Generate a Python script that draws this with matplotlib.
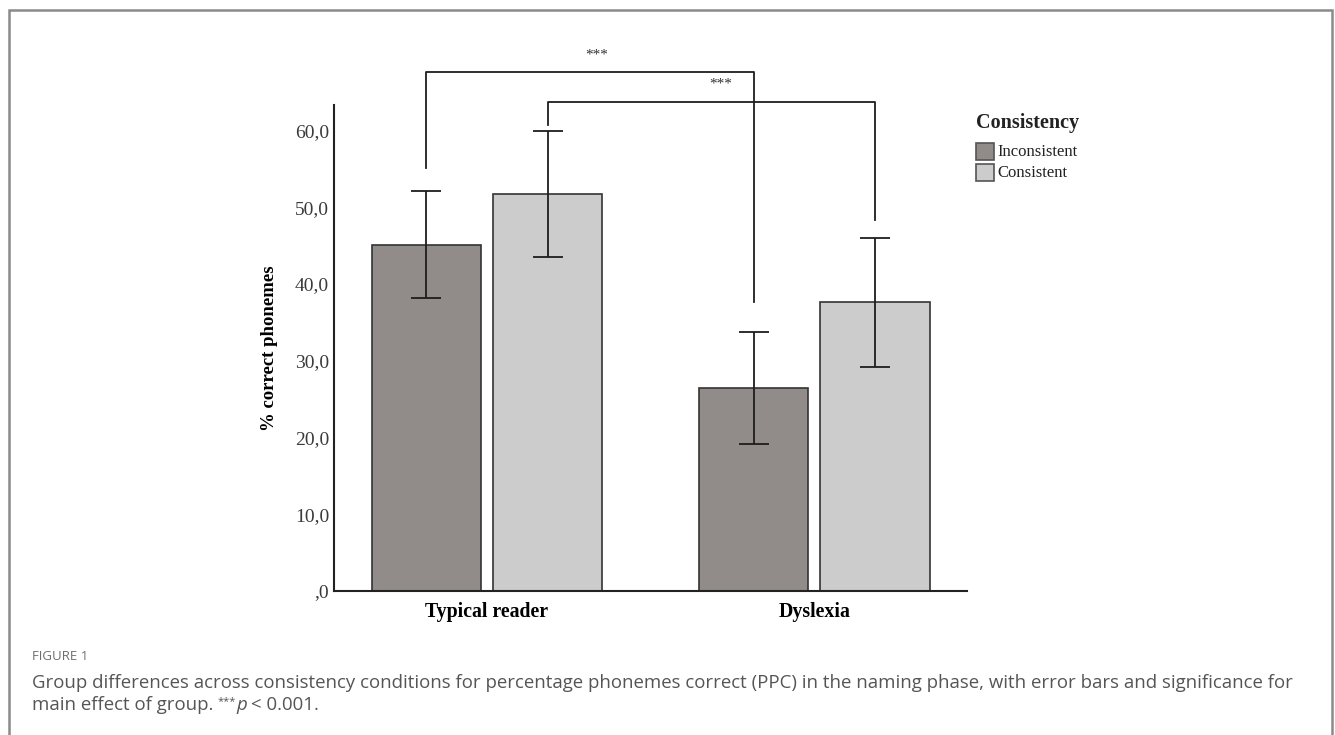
"""
Figure 1 - % correct phonemes by group and consistency (bar chart with error bars)
"""

import matplotlib
matplotlib.use('Agg')
import matplotlib.pyplot as plt
from matplotlib.patches import Rectangle
import numpy as np

# --- Data ---
groups = ['Typical reader', 'Dyslexia']
conditions = ['Inconsistent', 'Consistent']
means_inconsistent = [45.1, 26.4]
means_consistent = [51.7, 37.6]
err_inconsistent = [7.0, 7.3]
err_consistent = [8.2, 8.4]
yticks = [0, 10, 20, 30, 40, 50, 60]
ytick_labels = [',0', '10,0', '20,0', '30,0', '40,0', '50,0', '60,0']

# significance brackets: (left group, left cond, right group, right cond,
#                         left leg end, right leg end, top, star x, star y)
brackets = [
    (0, 0, 1, 0, 55.1, 37.6, 67.6, 0.336, 69.8),
    (0, 1, 1, 1, 60.7, 48.3, 63.7, 0.715, 66.0),
]

# --- Style ---
W, H = 1335, 735
fig = plt.figure(figsize=(W / 100, H / 100), dpi=100)
serif = 'Liberation Serif'
sans = 'Open Sans'

incons_color = '#918c8a'
cons_color = '#cccccc'
edge = '#333333'
line_col = '#1e1e1e'

ax = fig.add_axes([334 / W, 1 - 591 / H, 633 / W, 486 / H])

x = np.arange(len(groups))
bar_w = 0.333
offs = [-0.185, 0.185]

ax.bar(x + offs[0], means_inconsistent, bar_w, color=incons_color,
       edgecolor=edge, linewidth=1.2, zorder=2)
ax.bar(x + offs[1], means_consistent, bar_w, color=cons_color,
       edgecolor=edge, linewidth=1.2, zorder=2)

ax.errorbar(x + offs[0], means_inconsistent, yerr=err_inconsistent, fmt='none',
            ecolor=line_col, elinewidth=1.3, capsize=10.8, capthick=1.3, zorder=3)
ax.errorbar(x + offs[1], means_consistent, yerr=err_consistent, fmt='none',
            ecolor=line_col, elinewidth=1.3, capsize=10.8, capthick=1.3, zorder=3)

# Brackets
for g0, c0, g1, c1, y0, y1, top, sx, sy in brackets:
    xl = x[g0] + offs[c0]
    xr = x[g1] + offs[c1]
    ax.plot([xl, xl, xr, xr], [y0, top, top, y1], color=line_col,
            linewidth=1.3, clip_on=False, zorder=4)
    ax.text(sx, sy, '***', ha='center', va='center', fontsize=11,
            family=serif, color='#333333')

# Axes styling
ax.set_xlim(-0.467, 1.466)
ax.set_ylim(0, 63.3)
ax.set_xticks(x)
ax.set_xticklabels(groups, fontsize=14.3, fontweight='bold', family=serif)
ax.set_yticks(yticks)
ax.set_yticklabels(ytick_labels, fontsize=14, family=serif, color='#3a3a3a')
ax.tick_params(axis='both', length=0)
ax.tick_params(axis='y', pad=3.5)
ax.tick_params(axis='x', pad=8)
ax.spines['top'].set_visible(False)
ax.spines['right'].set_visible(False)
for s in ['left', 'bottom']:
    ax.spines[s].set_linewidth(1.5)
    ax.spines[s].set_color('#222222')
ax.set_ylabel('% correct phonemes', fontsize=13.5, fontweight='bold',
              family=serif, labelpad=12)

# Legend (drawn by hand)
fig.text(976 / W, 1 - 123 / H, 'Consistency', fontsize=14.5, fontweight='bold',
         family=serif, va='center', ha='left', color='#222222')
for i, (name, col) in enumerate(zip(conditions, [incons_color, cons_color])):
    ytop = 143 + i * 21
    fig.add_artist(Rectangle((976 / W, 1 - (ytop + 17) / H), 18 / W, 17 / H,
                             facecolor=col, edgecolor='#555555', linewidth=1.2,
                             transform=fig.transFigure))
    fig.text(997 / W, 1 - (ytop + 9) / H, name, fontsize=12, family=serif,
             va='center', ha='left', color='#222222')

# Caption
cap_col = '#555555'
cap_size = 13.4
fig.text(32 / W, 1 - 657 / H, 'FIGURE 1', fontsize=9.5, family=sans,
         color='#6e6e6e', va='center', ha='left')
fig.text(32 / W, 1 - 688 / H,
         'Group differences across consistency conditions for percentage phonemes '
         'correct (PPC) in the naming phase, with error bars and significance for',
         fontsize=cap_size, family=sans, color=cap_col, va='baseline', ha='left')

# second caption line: pieces placed one after another on the same baseline
renderer = fig.canvas.get_renderer()
base_y = 1 - 710 / H
pieces = [('main effect of group.', cap_size, 'normal', 0),
          ('***', 8, 'normal', 6),
          ('p', cap_size, 'italic', 0),
          ('< 0.001.', cap_size, 'normal', 0)]
gaps = [4, 1, 4, 0]
xpix = 32
for (txt, size, style, rise), gap in zip(pieces, gaps):
    t = fig.text(xpix / W, base_y + rise / H, txt, fontsize=size, family=sans,
                 style=style, color=cap_col, va='baseline', ha='left')
    bb = t.get_window_extent(renderer)
    xpix = bb.x1 + gap

# Outer frame
fig.add_artist(Rectangle((9 / W, -0.05), 1323 / W, 1.05 - 10 / H,
                         facecolor='none', edgecolor='#8a8a8a', linewidth=1.8,
                         transform=fig.transFigure))

plt.savefig('out.png', dpi=100)
